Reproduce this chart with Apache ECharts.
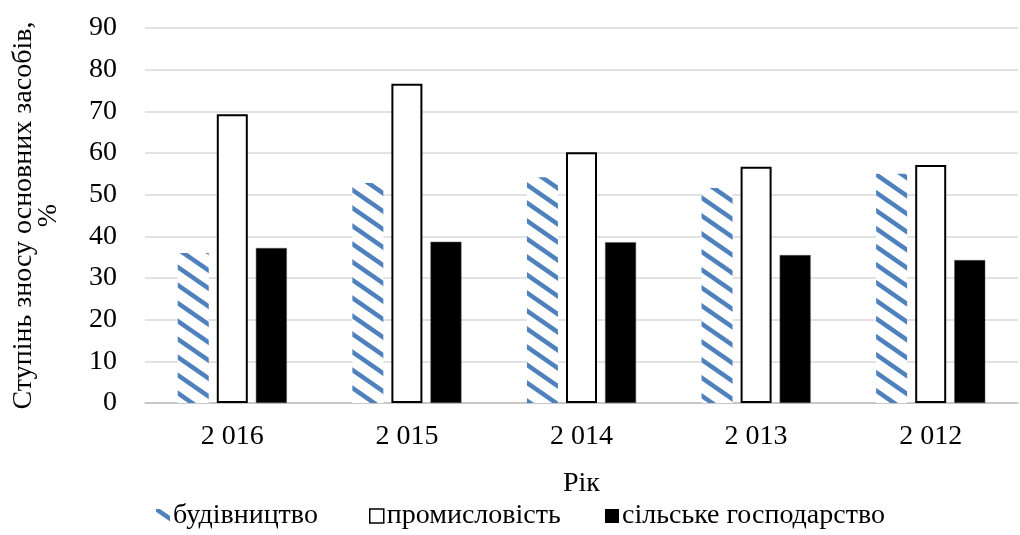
<!DOCTYPE html>
<html>
<head>
<meta charset="utf-8">
<script src="https://cdn.jsdelivr.net/npm/echarts@6/dist/echarts.min.js"></script>
<style>html,body{margin:0;padding:0;background:#fff}#c{width:1020px;height:535px}</style>
</head>
<body>
<div id="c"></div>
<script>
var categories = ['2 016', '2 015', '2 014', '2 013', '2 012'];
var seriesNames = ['будівництво', 'промисловість', 'сільське господарство'];
var budivnytstvo = [36.0, 52.8, 54.2, 51.6, 55.0];
var promyslovist = [69.3, 76.6, 60.2, 56.7, 57.1];
var silske = [37.2, 38.7, 38.6, 35.5, 34.3];
var yTicks = [0, 10, 20, 30, 40, 50, 60, 70, 80, 90];

function hatch() {
  var W = 26, H = 18;
  var c = document.createElement('canvas');
  c.width = W; c.height = H;
  var g = c.getContext('2d');
  g.fillStyle = '#ffffff';
  g.fillRect(0, 0, W, H);
  g.strokeStyle = '#4f81bd';
  g.lineWidth = 4.5;
  for (var k = -1; k <= 1; k++) {
    g.beginPath();
    g.moveTo(-W, -H + k * H);
    g.lineTo(2 * W, 2 * H + k * H);
    g.stroke();
  }
  return c;
}

var font = 'Liberation Serif';
var fs = 28;
var pat = hatch();
function leg(name, left, style) {
  return {
    left: left, bottom: 0, itemWidth: 14, itemHeight: 14, itemGap: 0,
    textStyle: { fontFamily: font, fontSize: fs, color: '#000', padding: [0, 0, 0, -2] },
    data: [{ name: name, icon: 'rect', itemStyle: style }]
  };
}
var chart = echarts.init(document.getElementById('c'));
chart.setOption({
  animation: false,
  grid: { left: 145, right: 2, top: 28, bottom: 132 },
  legend: [
    leg(seriesNames[0], 151, { borderWidth: 0 }),
    leg(seriesNames[1], 364, { color: '#fff', borderColor: '#000', borderWidth: 1.5 }),
    leg(seriesNames[2], 600, { color: '#000', borderWidth: 0 })
  ],
  xAxis: {
    type: 'category', data: categories,
    name: 'Рік', nameLocation: 'middle', nameGap: 67,
    nameTextStyle: { fontFamily: font, fontSize: fs, color: '#000' },
    axisLine: { lineStyle: { color: '#bfbfbf', width: 1.5 } },
    axisTick: { show: false },
    axisLabel: { fontFamily: font, fontSize: fs, color: '#000', margin: 20 }
  },
  yAxis: {
    type: 'value', min: 0, max: 90, interval: 10,
    name: 'Ступінь зносу основних засобів,\n%', nameLocation: 'middle', nameGap: 84, nameRotate: 90,
    nameTextStyle: { fontFamily: font, fontSize: fs, color: '#000', lineHeight: 25 },
    axisLine: { show: false }, axisTick: { show: false },
    splitLine: { lineStyle: { color: '#d9d9d9', width: 1.5 } },
    axisLabel: { fontFamily: font, fontSize: fs, color: '#000', margin: 28,
      formatter: function (v) { return yTicks.indexOf(v) >= 0 ? String(v) : ''; } }
  },
  series: [
    { name: seriesNames[0], type: 'bar', data: budivnytstvo, barWidth: 31, barGap: '26%',
      itemStyle: { color: { image: pat, repeat: 'repeat' } } },
    { name: seriesNames[1], type: 'bar', data: promyslovist, barWidth: 31, barGap: '26%',
      itemStyle: { color: '#ffffff', borderColor: '#000', borderWidth: 2 } },
    { name: seriesNames[2], type: 'bar', data: silske, barWidth: 31, barGap: '26%',
      itemStyle: { color: '#000000', borderColor: '#555', borderWidth: 0.5 } }
  ]
});
</script>
</body>
</html>
